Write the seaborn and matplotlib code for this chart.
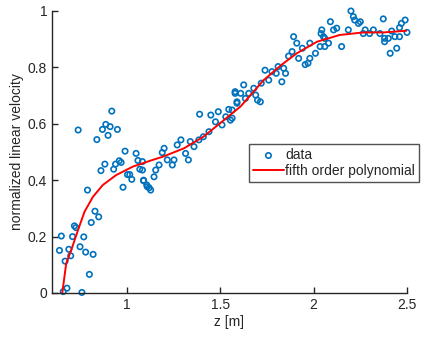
import numpy as np
import pandas as pd
import matplotlib
matplotlib.use("Agg")
import matplotlib.pyplot as plt
import seaborn as sns

# scatter data (z [m], normalized linear velocity)
z_data = [0.92, 0.74, 0.888, 0.911, 0.87, 0.95, 0.90, 0.84, 0.991, 1.05,
          0.883, 0.862, 0.93, 0.94, 0.96, 0.97, 1.06, 1.07, 1.004, 1.016,
          1.027, 0.98, 1.09, 1.107, 1.12, 0.79, 0.83, 0.85, 0.81, 0.72,
          0.728, 0.65, 0.71, 0.77, 0.64, 0.69, 0.75, 0.78, 0.82, 0.70,
          0.67, 0.80, 0.68, 0.66, 0.76,
          1.58, 1.59, 1.39, 1.45, 1.49, 1.546, 1.475, 1.51, 1.53, 1.555,
          1.44, 1.41, 1.386, 1.34, 1.29, 1.27, 1.36, 1.315, 1.33, 1.20,
          1.19, 1.217, 1.253, 1.244, 1.173, 1.155, 1.146, 1.084, 1.084, 1.09,
          1.11, 1.128,
          1.893, 1.91, 2.04, 2.06, 2.08, 2.035, 1.98, 1.94, 1.885, 2.01,
          1.866, 1.92, 1.98, 1.97, 1.955, 1.81, 1.84, 1.74, 1.777, 1.80,
          1.85, 1.76, 1.83, 1.72, 1.626, 1.68, 1.58, 1.61, 1.653, 1.69,
          1.635, 1.70, 1.715, 1.59, 1.564, 1.564,
          2.20, 2.213, 2.22, 2.24, 2.25, 2.09, 2.373, 2.49, 2.47, 2.46,
          2.044, 2.107, 2.124, 2.186, 2.276, 2.32, 2.418, 2.50, 2.266, 2.30,
          2.355, 2.053, 2.38, 2.40, 2.435, 2.46, 2.06, 2.15, 2.38, 2.41,
          2.445]
v_data = [0.645, 0.578, 0.598, 0.59, 0.58, 0.58, 0.559, 0.544, 0.503, 0.495,
          0.457, 0.434, 0.439, 0.457, 0.469, 0.463, 0.47, 0.439, 0.42, 0.42,
          0.403, 0.375, 0.398, 0.383, 0.373, 0.365, 0.29, 0.27, 0.25, 0.238,
          0.232, 0.202, 0.20, 0.199, 0.151, 0.155, 0.164, 0.145, 0.137, 0.132,
          0.113, 0.066, 0.017, 0.005, 0.002,
          0.708, 0.673, 0.634, 0.631, 0.643, 0.651, 0.607, 0.596, 0.625, 0.613,
          0.572, 0.554, 0.543, 0.537, 0.543, 0.525, 0.519, 0.495, 0.472, 0.513,
          0.498, 0.472, 0.472, 0.454, 0.454, 0.436, 0.412, 0.466, 0.436, 0.40,
          0.377, 0.365,
          0.909, 0.886, 0.92, 0.903, 0.886, 0.874, 0.886, 0.868, 0.856, 0.85,
          0.84, 0.832, 0.832, 0.815, 0.81, 0.803, 0.797, 0.79, 0.785, 0.779,
          0.779, 0.755, 0.749, 0.744, 0.738, 0.726, 0.714, 0.708, 0.708, 0.702,
          0.69, 0.684, 0.678, 0.678, 0.649, 0.62,
          1.0, 0.98, 0.968, 0.956, 0.962, 0.962, 0.972, 0.968, 0.956, 0.941,
          0.933, 0.933, 0.939, 0.933, 0.933, 0.933, 0.929, 0.924, 0.92, 0.92,
          0.92, 0.909, 0.903, 0.903, 0.909, 0.909, 0.874, 0.874, 0.891, 0.85,
          0.868]

# fitted fifth order polynomial
z_fit = [0.655, 0.676, 0.703, 0.739, 0.774, 0.819, 0.872, 0.943, 1.032,
         1.139, 1.192, 1.306, 1.41, 1.52, 1.61, 1.733, 1.83, 1.91, 2.018,
         2.14, 2.266, 2.373, 2.498]
v_fit = [0.0, 0.105, 0.152, 0.223, 0.288, 0.341, 0.383, 0.418, 0.448,
         0.472, 0.483, 0.513, 0.554, 0.613, 0.662, 0.755, 0.81, 0.85, 0.891,
         0.915, 0.924, 0.924, 0.93]

x_ticks = [1, 1.5, 2, 2.5]
x_ticklabels = ["1", "1.5", "2", "2.5"]
y_ticks = [0, 0.2, 0.4, 0.6, 0.8, 1]
y_ticklabels = ["0", "0.2", "0.4", "0.6", "0.8", "1"]

sns.set_style("white")
plt.rcParams['font.family'] = ['Liberation Sans', 'DejaVu Sans']

fig = plt.figure(figsize=(4.22, 3.37), dpi=100)
ax = fig.add_axes([52/422, 44/337, 355/422, 282/337])

df_pts = pd.DataFrame({"z": z_data, "v": v_data})
df_fit = pd.DataFrame({"z": z_fit, "v": v_fit})

sns.scatterplot(data=df_pts, x="z", y="v", ax=ax, marker="o", s=15,
                facecolors="none", edgecolor="#0072BD", linewidth=1.2,
                label="data", zorder=2, clip_on=False)
sns.lineplot(data=df_fit, x="z", y="v", ax=ax, sort=False, color="#FF0000",
             linewidth=1.4, label="fifth order polynomial", zorder=3)

ax.set_xlim(0.6, 2.5)
ax.set_ylim(0, 1)
ax.set_xticks(x_ticks)
ax.set_xticklabels(x_ticklabels)
ax.set_yticks(y_ticks)
ax.set_yticklabels(y_ticklabels)
ax.set_xlabel("z [m]", fontsize=10, color="#262626", labelpad=2)
ax.set_ylabel("normalized linear velocity", fontsize=10, color="#262626", labelpad=3)
ax.tick_params(direction="in", length=4, width=1, colors="#262626",
               labelsize=10, top=False, right=False, bottom=True, left=True)
for side in ["top", "right"]:
    ax.spines[side].set_visible(False)
for side in ["left", "bottom"]:
    ax.spines[side].set_color("#262626")
    ax.spines[side].set_linewidth(1)

leg = ax.legend(loc="upper left", bbox_to_anchor=(249/422, 1 - 144/337),
                bbox_transform=fig.transFigure, borderaxespad=0,
                fontsize=10, frameon=True, fancybox=False, handlelength=2.2,
                handletextpad=0.1, borderpad=0.3, labelspacing=0.1)
leg.get_frame().set_edgecolor("#262626")
leg.get_frame().set_linewidth(1)

fig.savefig("out.png", dpi=100)
